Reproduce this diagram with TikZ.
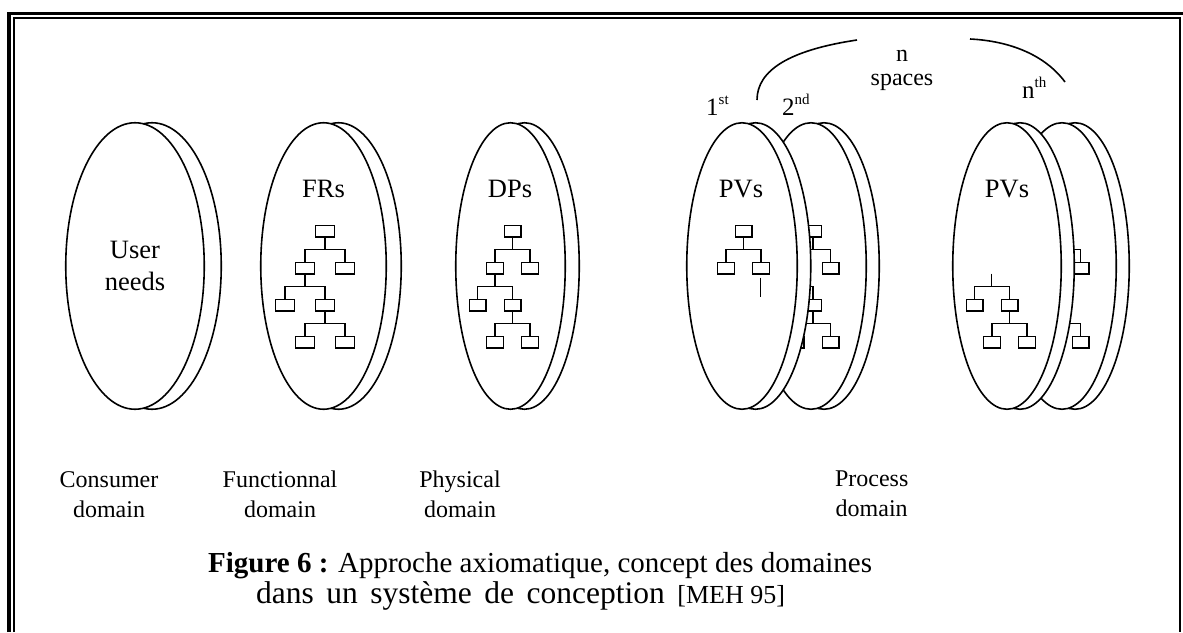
\documentclass[tikz,border=0pt]{standalone}
\usepackage{fontspec}
\setmainfont{Liberation Serif}
\usetikzlibrary{shapes.geometric}
\newcommand\fulltree[3]{%
  \node[tbox] (#1r) at (#2,231) {};
  \node[tbox] (#1a) at ({#2-#3},268) {};
  \node[tbox] (#1b) at ({#2+#3},268) {};
  \node[tbox] (#1c) at ({#2-2*#3},305) {};
  \node[tbox] (#1e) at (#2,305) {};
  \node[tbox] (#1f) at ({#2-#3},342) {};
  \node[tbox] (#1g) at ({#2+#3},342) {};
  \draw[tline] (#1r.south) -- ++(0,12.2) coordinate (#1rj);
  \draw[tline] (#1a.north) |- (#1rj) -| (#1b.north);
  \draw[tline] (#1a.south) -- ++(0,12.2) coordinate (#1aj);
  \draw[tline] (#1c.north) |- (#1aj) -| (#1e.north);
  \draw[tline] (#1e.south) -- ++(0,12.2) coordinate (#1ej);
  \draw[tline] (#1f.north) |- (#1ej) -| (#1g.north);
}
\begin{document}
\begin{tikzpicture}[x=1pt,y=-1pt,
  disk/.style={ellipse, draw, fill=white, line width=1.6pt, inner sep=0pt, outer sep=0pt, minimum height=286.5pt},
  tbox/.style={draw, fill=white, line width=1.4pt, inner sep=0pt, minimum width=16.6pt, minimum height=11.6pt},
  tline/.style={line width=1.4pt},
  frameout/.style={line width=3.3pt},
  framein/.style={line width=2.6pt},
  dlabel/.style={font=\fontsize{26.5}{32}\selectfont, align=center, inner sep=0pt},
  domlabel/.style={font=\fontsize{24}{30}\selectfont, align=center, inner sep=0pt},
  toplabel/.style={font=\fontsize{24}{25}\selectfont, inner sep=0pt, anchor=base},
  ordlabel/.style={font=\fontsize{25}{25}\selectfont, inner sep=0pt, anchor=base west},
  caption/.style={font=\fontsize{29}{31}\selectfont, inner sep=0pt, anchor=base west},
  caption2/.style={font=\fontsize{31.5}{33}\selectfont, inner sep=0pt, anchor=base west},
  arcline/.style={line width=1.6pt}
]
\useasboundingbox (0,0) rectangle (1183,632);
% double frame (cut by the picture edges at right and bottom)
\coordinate (fo1) at (9,632); \coordinate (fo2) at (9,13.3); \coordinate (fo3) at (1183,13.3);
\draw[frameout] (fo1) -- (fo2) -- (fo3);
\coordinate (fi1) at (13.8,632); \coordinate (fi2) at (13.8,18); \coordinate (fi3) at (1180,18); \coordinate (fi4) at (1180,632);
\draw[framein] (fi1) -- (fi2) -- (fi3) -- (fi4);

% consumer domain
\node[disk, minimum width=138.5pt] (d1back) at (152,266) {};
\node[disk, minimum width=138.5pt] (d1) at (135,266) {};
\node[dlabel] (un) at (135,265.5) {User\\needs};

% functional domain
\node[disk, minimum width=125.5pt] (d2back) at (338.5,266) {};
\node[disk, minimum width=125.5pt] (d2) at (323.5,266) {};
\node[dlabel, anchor=base] (frs) at (323.5,197) {FRs};
\begin{scope}[tbox/.append style={minimum width=18.6pt}]
\fulltree{fr}{325}{20}
\end{scope}

% physical domain
\node[disk, minimum width=109.5pt] (d3back) at (524.5,266) {};
\node[disk, minimum width=109.5pt] (d3) at (510.5,266) {};
\node[dlabel, anchor=base] (dps) at (510,197) {DPs};
\fulltree{dp}{512.5}{17.5}

% process domain, 2nd space
\node[disk, minimum width=110.5pt] (p2back) at (824,266) {};
\node[disk, minimum width=110.5pt] (p2) at (811,266) {};
\fulltree{pb}{813}{17.5}
% process domain, 1st space
\node[disk, minimum width=110.5pt] (p1back) at (755.5,266) {};
\node[disk, minimum width=110.5pt] (p1) at (742,266) {};
\node[dlabel, anchor=base] (pv1) at (741,197) {PVs};
\node[tbox] (p1r) at (743.5,231) {};
\node[tbox] (p1a) at (726,268) {};
\node[tbox] (p1b) at (761,268) {};
\draw[tline] (p1r.south) -- ++(0,12.2) coordinate (p1rj);
\draw[tline] (p1a.north) |- (p1rj) -| (p1b.north);
\coordinate (p1s1) at (760.5,277.5); \coordinate (p1s2) at (760.5,297);
\draw[tline] (p1s1) -- (p1s2);

% process domain, space behind the n-th
\node[disk, minimum width=108.5pt] (pmback) at (1075,266) {};
\node[disk, minimum width=108.5pt] (pm) at (1062,266) {};
\fulltree{pm}{1063}{17.5}
% process domain, n-th space
\node[disk, minimum width=108.5pt] (pnback) at (1020,266) {};
\node[disk, minimum width=108.5pt] (pn) at (1007,266) {};
\node[dlabel, anchor=base] (pvn) at (1007,197) {PVs};
\coordinate (pns) at (991.7,273.5);
\node[tbox] (pnc) at (974.5,305) {};
\node[tbox] (pne) at (1009.5,305) {};
\node[tbox] (pnf) at (992,342) {};
\node[tbox] (png) at (1027,342) {};
\draw[tline] (pns) -- ++(0,13.2) coordinate (pnaj);
\draw[tline] (pnc.north) |- (pnaj) -| (pne.north);
\draw[tline] (pne.south) -- ++(0,12.2) coordinate (pnej);
\draw[tline] (pnf.north) |- (pnej) -| (png.north);

% n spaces annotation
\node[toplabel] (nn) at (902,61.5) {n};
\node[toplabel] (spc) at (902,85) {spaces};
\node[ordlabel] (first) at (706,115) {1\raisebox{11pt}{\fontsize{15}{15}\selectfont st}};
\node[ordlabel] (second) at (782,115) {2\raisebox{11pt}{\fontsize{15}{15}\selectfont nd}};
\node[ordlabel] (nth) at (1022,98) {n\raisebox{11pt}{\fontsize{15}{15}\selectfont th}};
\coordinate (al1) at (757,100); \coordinate (al2) at (857,40);
\draw[arcline] (al1) .. controls (757,70) and (790,50) .. (al2);
\coordinate (ar1) at (970,39); \coordinate (ar2) at (1065,82);
\draw[arcline] (ar1) .. controls (1010,41) and (1045,55) .. (ar2);

% domain names (struts give every label the same box, so baselines agree)
\node[domlabel] (cons) at (109,496) {\strut Consumer\\domain\strut};
\node[domlabel] (func) at (280,496) {\strut Functionnal\\domain\strut};
\node[domlabel] (phys) at (460,496) {\strut Physical\\domain\strut};
\node[domlabel] (proc) at (871.7,495) {\strut Process\\domain\strut};

% caption
\node[caption] (cap1) at (208,572) {\textbf{Figure 6 :} Approche axiomatique, concept des domaines};
\node[caption2] (cap2) at (256,603) {{\spaceskip=12.5pt\relax dans un système de conception }{\fontsize{26}{26}\selectfont [MEH 95]}};
\end{tikzpicture}
\end{document}
